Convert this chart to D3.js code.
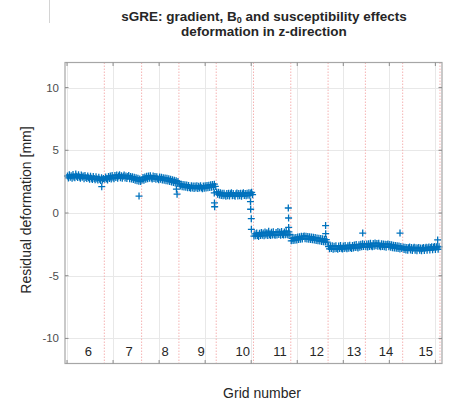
<!DOCTYPE html>
<html>
<head>
<meta charset="utf-8">
<script src="https://cdn.jsdelivr.net/npm/d3@7"></script>
<style>
  body { margin: 0; background: #fff; }
  svg { display: block; font-family: "Liberation Sans", Arial, sans-serif; }
</style>
</head>
<body>
<svg id="chart" width="450" height="412"></svg>
<script>
// Grid numbers and the residual deformation samples measured in each grid [mm]
const gridNumbers = [6, 7, 8, 9, 10, 11, 12, 13, 14, 15];

const grid6 = [2.95,2.80,3.04,2.86,2.98,2.78,3.06,2.88,2.82,3.10,2.94,2.84,3.05,2.88,2.78,3.02,2.86,2.96,2.74,3.00,2.84,2.76,2.96,2.82,2.70,2.94,2.78,2.68,2.92,2.76,2.66,2.90,2.74,2.64,2.86,2.70,2.60,2.82,2.64,2.76];
const grid7 = [2.70,2.88,2.74,2.64,2.92,2.76,2.95,2.72,2.99,2.82,2.74,3.00,2.84,3.02,2.78,2.96,3.04,2.82,2.98,2.78,2.94,3.02,2.80,2.96,2.76,2.92,3.00,2.74,2.92,2.72,2.90,2.68,2.86,2.62,2.82,2.58,2.78,2.54,2.72,2.52];
const grid8 = [2.64,2.84,2.62,2.88,2.70,2.93,2.74,2.95,2.78,2.98,2.80,2.72,2.96,2.76,2.92,2.70,2.90,2.74,2.66,2.88,2.70,2.86,2.64,2.82,2.62,2.80,2.58,2.78,2.56,2.74,2.52,2.70,2.48,2.66,2.44,2.62,2.40,2.58,2.36,2.52];
const grid9 = [2.34,2.16,2.30,2.10,2.28,2.08,2.26,2.05,2.24,2.02,2.20,2.04,1.98,2.18,2.00,2.16,1.96,2.16,2.00,2.18,1.95,2.14,1.99,2.18,2.02,1.94,2.16,1.98,2.17,2.00,2.20,2.02,2.22,2.04,2.25,2.06,2.27,2.09,2.30,2.12];
const grid10 = [1.68,1.50,1.66,1.44,1.62,1.40,1.58,1.37,1.57,1.42,1.34,1.55,1.38,1.58,1.35,1.54,1.62,1.37,1.56,1.40,1.33,1.53,1.60,1.36,1.55,1.38,1.58,1.34,1.54,1.61,1.39,1.56,1.37,1.58,1.41,1.62,1.42,1.59,1.65,1.46];
const grid11 = [-1.84,-1.66,-1.82,-1.60,-1.79,-1.87,-1.62,-1.80,-1.55,-1.78,-1.60,-1.82,-1.52,-1.76,-1.58,-1.80,-1.45,-1.74,-1.80,-1.54,-1.75,-1.50,-1.73,-1.78,-1.55,-1.76,-1.48,-1.72,-1.53,-1.77,-1.47,-1.71,-1.75,-1.51,-1.73,-1.42,-1.70,-1.76,-1.50,-1.70];
const grid12 = [-2.22,-2.02,-2.20,-1.98,-2.17,-1.95,-2.15,-1.92,-2.12,-1.90,-2.10,-1.86,-2.07,-1.88,-1.83,-2.05,-1.85,-2.07,-1.87,-2.09,-1.89,-2.11,-1.91,-2.14,-1.94,-2.16,-1.96,-2.19,-1.99,-2.21,-2.02,-2.24,-2.04,-2.27,-2.06,-2.29,-2.09,-2.32,-2.12,-2.33];
const grid13 = [-2.68,-2.86,-2.64,-2.84,-2.62,-2.90,-2.66,-2.86,-2.62,-2.83,-2.89,-2.64,-2.84,-2.60,-2.81,-2.87,-2.63,-2.83,-2.59,-2.80,-2.86,-2.61,-2.81,-2.57,-2.78,-2.84,-2.59,-2.79,-2.55,-2.76,-2.52,-2.73,-2.79,-2.54,-2.74,-2.49,-2.70,-2.46,-2.67,-2.50];
const grid14 = [-2.69,-2.48,-2.72,-2.45,-2.67,-2.42,-2.64,-2.70,-2.43,-2.65,-2.40,-2.62,-2.44,-2.66,-2.41,-2.63,-2.69,-2.45,-2.67,-2.48,-2.70,-2.50,-2.73,-2.52,-2.47,-2.70,-2.51,-2.74,-2.54,-2.77,-2.57,-2.79,-2.59,-2.82,-2.62,-2.84,-2.64,-2.87,-2.67,-2.84];
const grid15 = [-2.71,-2.92,-2.73,-2.95,-2.75,-2.97,-2.77,-2.72,-2.95,-2.76,-2.99,-2.79,-2.74,-2.97,-2.78,-3.00,-2.80,-2.75,-2.98,-2.79,-3.01,-2.81,-2.76,-2.99,-2.80,-2.74,-2.97,-2.78,-2.72,-2.95,-2.76,-2.70,-2.93,-2.74,-2.68,-2.91,-2.72,-2.67,-2.89,-2.70];

// Isolated samples near the grid transitions (sample index, deformation)
const outlierX = [377, 782, 1188, 1195, 1599, 1601, 1603, 1992, 1994, 2001, 2002, 2403, 2406, 2407, 2808, 2809, 3211, 3616, 4025];
const outlierY = [2.1, 1.35, 1.9, 1.5, 1.6, 0.8, 0.5, 0.9, 0.3, -0.45, -1.3, 0.4, -0.4, -1.15, -1.0, -1.65, -1.6, -1.6, -2.15];

// Sample index where each grid number label is written
const gridLabelX = [231, 673, 1064, 1455, 1908, 2313, 2711, 3116, 3464, 3895];

const xTicks = [0, 500, 1000, 1500, 2000, 2500, 3000, 3500, 4000];
const yTicks = [-10, -5, 0, 5, 10];
const samplesPerGrid = 405;
const sampleStep = 10;

const svg = d3.select("#chart");
const plot = { left: 65, right: 442, top: 62.5, bottom: 363.5 };

const x = d3.scaleLinear().domain([-22, 4072]).range([plot.left, plot.right]);
const y = d3.scaleLinear().domain([-12, 12]).range([plot.bottom, plot.top]);

const seriesByGrid = [grid6, grid7, grid8, grid9, grid10, grid11, grid12, grid13, grid14, grid15];
const samples = [];
seriesByGrid.forEach((vals, g) => {
  vals.forEach((v, i) => samples.push({ x: g * samplesPerGrid + 5 + i * sampleStep, y: v }));
});
outlierX.forEach((xi, i) => samples.push({ x: xi, y: outlierY[i] }));

const boundaries = gridNumbers.map((d, i) => (i + 1) * samplesPerGrid);

// stray guide line at the top-left of the figure
svg.append("line").attr("x1", 49.5).attr("x2", 49.5).attr("y1", 0).attr("y2", 23)
  .attr("stroke", "#d4d4d4").attr("stroke-width", 1);

// Gridlines
const gridG = svg.append("g");
gridG.selectAll("line.gx").data(xTicks).join("line")
  .attr("x1", d => Math.round(x(d)) + 0.5).attr("x2", d => Math.round(x(d)) + 0.5)
  .attr("y1", plot.top).attr("y2", plot.bottom)
  .attr("stroke", "#e8e8e8").attr("stroke-width", 1);
gridG.selectAll("line.gy").data(yTicks).join("line")
  .attr("x1", plot.left).attr("x2", plot.right)
  .attr("y1", d => Math.round(y(d)) + 0.5).attr("y2", d => Math.round(y(d)) + 0.5)
  .attr("stroke", "#e8e8e8").attr("stroke-width", 1);

// Grid boundaries
svg.append("g").selectAll("line").data(boundaries).join("line")
  .attr("x1", d => x(d)).attr("x2", d => x(d))
  .attr("y1", plot.top).attr("y2", plot.bottom)
  .attr("stroke", "#f5b3b3").attr("stroke-width", 1)
  .attr("stroke-dasharray", "1.5,1.5");

// Samples drawn as plus markers
const arm = 3.5;
svg.append("g").selectAll("path").data(samples).join("path")
  .attr("d", d => {
    const cx = x(d.x), cy = y(d.y);
    return `M${cx - arm},${cy}H${cx + arm}M${cx},${cy - arm}V${cy + arm}`;
  })
  .attr("fill", "none")
  .attr("stroke", "#0072BD")
  .attr("stroke-width", 1.3);

// Axes box with inward ticks
const boxColor = "#a6a6a6";
svg.append("rect")
  .attr("x", plot.left).attr("y", plot.top)
  .attr("width", plot.right - plot.left).attr("height", plot.bottom - plot.top)
  .attr("fill", "none").attr("stroke", boxColor).attr("stroke-width", 1.2);

const tickLen = 3.5;
const tickG = svg.append("g").attr("stroke", "#8c8c8c").attr("stroke-width", 1);
xTicks.forEach(t => {
  const px = x(t);
  tickG.append("line").attr("x1", px).attr("x2", px).attr("y1", plot.bottom).attr("y2", plot.bottom - tickLen);
  tickG.append("line").attr("x1", px).attr("x2", px).attr("y1", plot.top).attr("y2", plot.top + tickLen);
});
yTicks.forEach(t => {
  const py = y(t);
  tickG.append("line").attr("x1", plot.left).attr("x2", plot.left + tickLen).attr("y1", py).attr("y2", py);
  tickG.append("line").attr("x1", plot.right).attr("x2", plot.right - tickLen).attr("y1", py).attr("y2", py);
});

// Y tick labels
svg.append("g").selectAll("text").data(yTicks).join("text")
  .attr("x", plot.left - 6).attr("y", d => y(d))
  .attr("dy", "0.35em")
  .attr("text-anchor", "end")
  .attr("font-size", 11.5)
  .attr("fill", "#4d4d4d")
  .text(d => d);

// Grid number labels inside the plot
svg.append("g").selectAll("text").data(gridNumbers).join("text")
  .attr("x", (d, i) => x(gridLabelX[i])).attr("y", 356)
  .attr("text-anchor", "middle")
  .attr("font-size", 13)
  .attr("fill", "#262626")
  .text(d => d);

// Axis titles
svg.append("text")
  .attr("transform", `translate(31,${(plot.top + plot.bottom) / 2 - 3}) rotate(-90)`)
  .attr("text-anchor", "middle")
  .attr("font-size", 14)
  .attr("fill", "#262626")
  .text("Residual deformation [mm]");

svg.append("text")
  .attr("x", 262).attr("y", 398)
  .attr("text-anchor", "middle")
  .attr("font-size", 14)
  .attr("fill", "#262626")
  .text("Grid number");

// Title
const title = svg.append("text")
  .attr("x", 264).attr("y", 20.5)
  .attr("text-anchor", "middle")
  .attr("font-size", 13.5)
  .attr("font-weight", "bold")
  .attr("fill", "#262626");
title.append("tspan").text("sGRE:  gradient, B");
title.append("tspan").attr("font-size", 9).attr("dy", 2).text("0");
title.append("tspan").attr("dy", -2).text(" and susceptibility effects");

svg.append("text")
  .attr("x", 264).attr("y", 36)
  .attr("text-anchor", "middle")
  .attr("font-size", 13.5)
  .attr("font-weight", "bold")
  .attr("fill", "#262626")
  .text("deformation in z-direction");
</script>
</body>
</html>
